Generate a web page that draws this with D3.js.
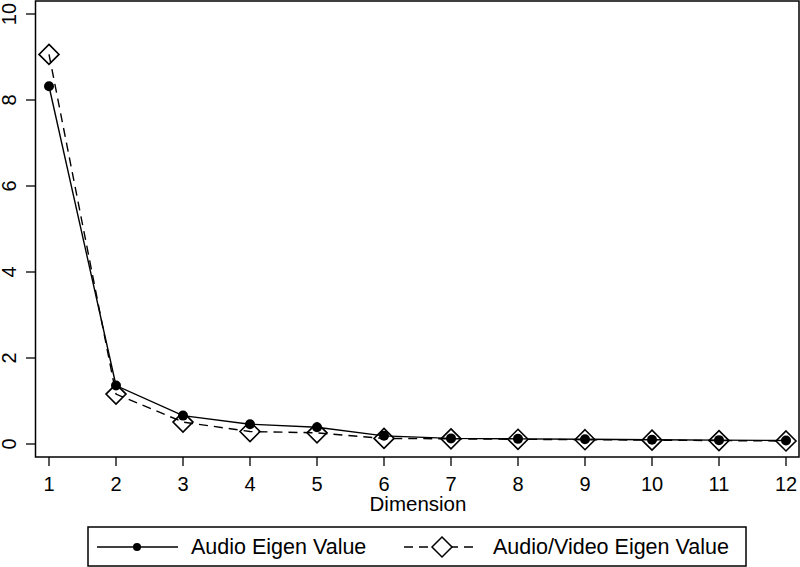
<!DOCTYPE html>
<html>
<head>
<meta charset="utf-8">
<script src="https://cdn.jsdelivr.net/npm/d3@7"></script>
<style>
  body { margin: 0; background: #fff; }
  svg { display: block; font-family: "Liberation Sans", Arial, sans-serif; }
</style>
</head>
<body>
<svg id="chart" width="800" height="567"></svg>
<script>
// === Data ===
const dimensions = [1, 2, 3, 4, 5, 6, 7, 8, 9, 10, 11, 12];
const audioValues = [8.32, 1.36, 0.66, 0.46, 0.39, 0.19, 0.13, 0.12, 0.11, 0.10, 0.09, 0.08];
const avValues = [9.06, 1.16, 0.51, 0.29, 0.26, 0.13, 0.12, 0.11, 0.10, 0.09, 0.08, 0.07];
const yTicks = [0, 2, 4, 6, 8, 10];
const seriesNames = ['Audio Eigen Value', 'Audio/Video Eigen Value'];

const svg = d3.select('#chart');

const box = { left: 35.5, top: 1, right: 799, bottom: 457 };

const x = d3.scaleLinear().domain([1, 12]).range([49, 786]);
const y = d3.scaleLinear().domain([0, 10]).range([444, 14]);

// plot frame
svg.append('rect')
    .attr('x', box.left).attr('y', box.top)
    .attr('width', box.right - box.left).attr('height', box.bottom - box.top)
    .attr('fill', 'none').attr('stroke', '#000').attr('stroke-width', 1.5);

// y axis ticks
const yAxis = svg.append('g');
yAxis.selectAll('line').data(yTicks).join('line')
    .attr('x1', 26).attr('x2', box.left)
    .attr('y1', d => y(d)).attr('y2', d => y(d))
    .attr('stroke', '#000').attr('stroke-width', 1.3);
yAxis.selectAll('text').data(yTicks).join('text')
    .attr('transform', d => `translate(16,${y(d)}) rotate(-90)`)
    .attr('text-anchor', 'middle')
    .attr('font-size', 20)
    .text(d => d);

// x axis ticks
const xAxis = svg.append('g');
xAxis.selectAll('line').data(dimensions).join('line')
    .attr('x1', d => x(d)).attr('x2', d => x(d))
    .attr('y1', box.bottom).attr('y2', 466)
    .attr('stroke', '#000').attr('stroke-width', 1.3);
xAxis.selectAll('text').data(dimensions).join('text')
    .attr('x', d => x(d)).attr('y', 491)
    .attr('text-anchor', 'middle')
    .attr('font-size', 20)
    .text(d => d);

svg.append('text')
    .attr('x', 418).attr('y', 511)
    .attr('text-anchor', 'middle')
    .attr('font-size', 20.5)
    .text('Dimension');

// lines
const line = d3.line().x((d, i) => x(dimensions[i])).y(d => y(d));

svg.append('path')
    .datum(avValues)
    .attr('d', line)
    .attr('fill', 'none').attr('stroke', '#000').attr('stroke-width', 1.4)
    .attr('stroke-dasharray', '9,6');

svg.append('path')
    .datum(audioValues)
    .attr('d', line)
    .attr('fill', 'none').attr('stroke', '#000').attr('stroke-width', 1.4);

const diamond = r => `M0,${-r}L${r},0L0,${r}L${-r},0Z`;

svg.append('g').selectAll('path').data(avValues).join('path')
    .attr('transform', (d, i) => `translate(${x(dimensions[i])},${y(d)})`)
    .attr('d', diamond(10))
    .attr('fill', 'none').attr('stroke', '#000').attr('stroke-width', 1.6);

svg.append('g').selectAll('circle').data(audioValues).join('circle')
    .attr('cx', (d, i) => x(dimensions[i]))
    .attr('cy', d => y(d))
    .attr('r', 5)
    .attr('fill', '#000');

// === Legend ===
const legend = svg.append('g');
legend.append('rect')
    .attr('x', 88).attr('y', 527).attr('width', 658).attr('height', 39)
    .attr('fill', '#fff').attr('stroke', '#000').attr('stroke-width', 1.5);

legend.append('line')
    .attr('x1', 97).attr('x2', 178).attr('y1', 547).attr('y2', 547)
    .attr('stroke', '#000').attr('stroke-width', 1.4);
legend.append('circle')
    .attr('cx', 137).attr('cy', 547).attr('r', 4).attr('fill', '#000');
legend.append('text')
    .attr('x', 191).attr('y', 554)
    .attr('font-size', 21.5)
    .text(seriesNames[0]);

legend.append('line')
    .attr('x1', 404).attr('x2', 479).attr('y1', 547).attr('y2', 547)
    .attr('stroke', '#000').attr('stroke-width', 1.4)
    .attr('stroke-dasharray', '9,6');
legend.append('path')
    .attr('transform', 'translate(442,547)')
    .attr('d', diamond(10))
    .attr('fill', '#fff').attr('stroke', '#000').attr('stroke-width', 1.5);
legend.append('text')
    .attr('x', 493).attr('y', 554)
    .attr('font-size', 21.5)
    .text(seriesNames[1]);
</script>
</body>
</html>
